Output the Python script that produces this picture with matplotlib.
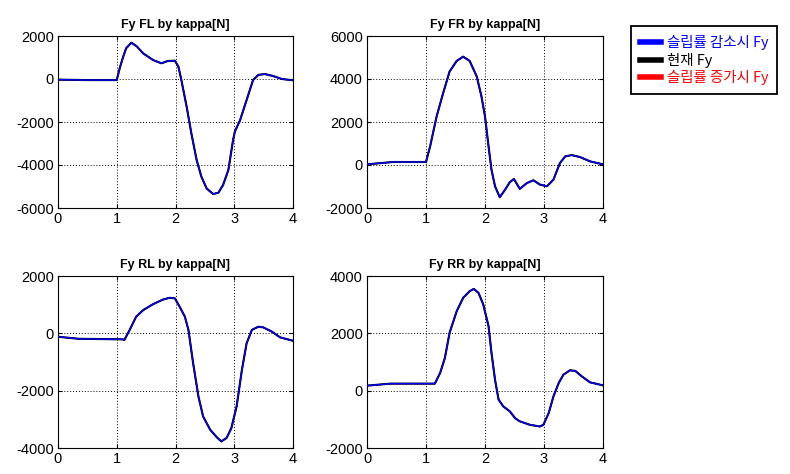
import matplotlib
matplotlib.use("Agg")
import matplotlib.pyplot as plt
from matplotlib.lines import Line2D
import numpy as np

# ---- data ----
fl_t = [0, 0.5, 1.0, 1.05, 1.11, 1.16, 1.25, 1.34, 1.45, 1.62, 1.76, 1.87, 1.99, 2.05, 2.10, 2.19, 2.27,
        2.36, 2.44, 2.53, 2.64, 2.73, 2.81, 2.90, 2.98, 3.01, 3.10, 3.21, 3.32, 3.41, 3.52, 3.66, 3.81, 4.0]
fl_v = [-30, -50, -50, 500, 1040, 1430, 1690, 1520, 1190, 880, 730, 840, 850, 570, -50, -1290, -2530,
        -3770, -4540, -5090, -5350, -5290, -4930, -4230, -2840, -2450, -1910, -980, -50, 190, 230, 140, 0, -60]

fr_t = [0, 0.44, 1.0, 1.07, 1.18, 1.29, 1.40, 1.52, 1.63, 1.74, 1.86, 1.94, 2.0, 2.06, 2.11, 2.17, 2.25,
        2.34, 2.42, 2.49, 2.59, 2.71, 2.82, 2.93, 3.05, 3.16, 3.27, 3.36, 3.47, 3.61, 3.78, 4.0]
fr_v = [30, 140, 140, 870, 2260, 3340, 4350, 4840, 5040, 4840, 4120, 3190, 2260, 870, -220, -990, -1500,
        -1150, -800, -650, -1110, -840, -710, -910, -990, -680, 90, 400, 460, 370, 170, 30]

rl_t = [0, 0.35, 1.10, 1.13, 1.22, 1.33, 1.45, 1.62, 1.79, 1.90, 1.99, 2.07, 2.16, 2.22, 2.30, 2.39, 2.47,
        2.59, 2.70, 2.78, 2.87, 2.95, 3.04, 3.13, 3.21, 3.30, 3.41, 3.49, 3.64, 3.78, 4.0]
rl_v = [-120, -190, -210, -230, 120, 580, 810, 1020, 1180, 1240, 1220, 930, 580, 120, -1040, -2200, -2900,
        -3360, -3620, -3770, -3650, -3310, -2550, -1280, -350, 120, 230, 210, 60, -140, -260]

rr_t = [0, 0.40, 1.15, 1.24, 1.32, 1.40, 1.52, 1.63, 1.74, 1.81, 1.89, 1.97, 2.06, 2.11, 2.17, 2.23, 2.31,
        2.42, 2.51, 2.59, 2.76, 2.93, 2.99, 3.08, 3.16, 3.25, 3.33, 3.44, 3.53, 3.64, 3.78, 4.0]
rr_v = [175, 245, 245, 620, 1140, 2020, 2770, 3240, 3470, 3550, 3410, 3010, 2250, 1320, 380, -310, -550,
        -720, -960, -1070, -1190, -1250, -1190, -780, -200, 270, 560, 710, 690, 500, 290, 185]

titles = ["Fy FL by kappa[N]", "Fy FR by kappa[N]", "Fy RL by kappa[N]", "Fy RR by kappa[N]"]
ylims = [(-6000, 2000), (-2000, 6000), (-4000, 2000), (-2000, 4000)]
yticks = [[-6000, -4000, -2000, 0, 2000], [-2000, 0, 2000, 4000, 6000],
          [-4000, -2000, 0, 2000], [-2000, 0, 2000, 4000]]
xticks = [0, 1, 2, 3, 4]
legend_labels = ["슬립률 감소시 Fy", "현재 Fy", "슬립률 증가시 Fy"]
legend_colors = ["#0000ff", "#000000", "#ff0000"]

series = [(fl_t, fl_v), (fr_t, fr_v), (rl_t, rl_v), (rr_t, rr_v)]

plt.rcParams['font.family'] = ['Liberation Sans', 'DejaVu Sans']
plt.rcParams['axes.unicode_minus'] = False

W, H = 790, 474
fig = plt.figure(figsize=(W / 100, H / 100), dpi=100)
fig.patch.set_facecolor('white')

boxes = [(58, 36, 293, 208), (367, 36, 603, 208), (58, 276, 293, 448), (367, 276, 603, 448)]

for i, (box, (t, v)) in enumerate(zip(boxes, series)):
    x0, y0, x1, y1 = box
    ax = fig.add_axes([x0 / W, 1 - y1 / H, (x1 - x0) / W, (y1 - y0) / H])
    t = np.array(t)
    v = np.array(v, dtype=float)
    ax.plot(t, v, color=legend_colors[2], lw=1.0, zorder=3)
    ax.plot(t, v, color=legend_colors[1], lw=1.5, zorder=4)
    ax.plot(t, v, color=legend_colors[0], lw=1.0, zorder=5)
    ax.set_xlim(0, 4)
    ax.set_ylim(*ylims[i])
    ax.set_xticks(xticks)
    ax.set_yticks(yticks[i])
    ax.grid(True, color='black', linestyle=(0, (1, 2)), linewidth=0.7)
    ax.tick_params(direction='in', length=3, labelsize=10.5, colors='black', pad=3,
                   top=True, right=True)
    for s in ax.spines.values():
        s.set_linewidth(0.8)
        s.set_color('black')
    ax.set_title(titles[i], fontsize=9, fontweight='bold', pad=6)

leg_handles = [Line2D([0], [0], color=c, lw=4) for c in legend_colors]
leg = fig.legend(leg_handles, legend_labels, loc='upper left',
                 bbox_to_anchor=(631 / W, 1 - 26 / H), bbox_transform=fig.transFigure,
                 borderaxespad=0, fancybox=False, edgecolor='black', framealpha=1,
                 prop={'family': ['Noto Sans CJK KR', 'DejaVu Sans'], 'size': 10.4},
                 handlelength=1.5, handletextpad=0.4, labelspacing=0.2, borderpad=0.6)
leg.get_frame().set_linewidth(1.3)
for txt, c in zip(leg.get_texts(), legend_colors):
    txt.set_color(c)

fig.savefig("out.png", dpi=100)
